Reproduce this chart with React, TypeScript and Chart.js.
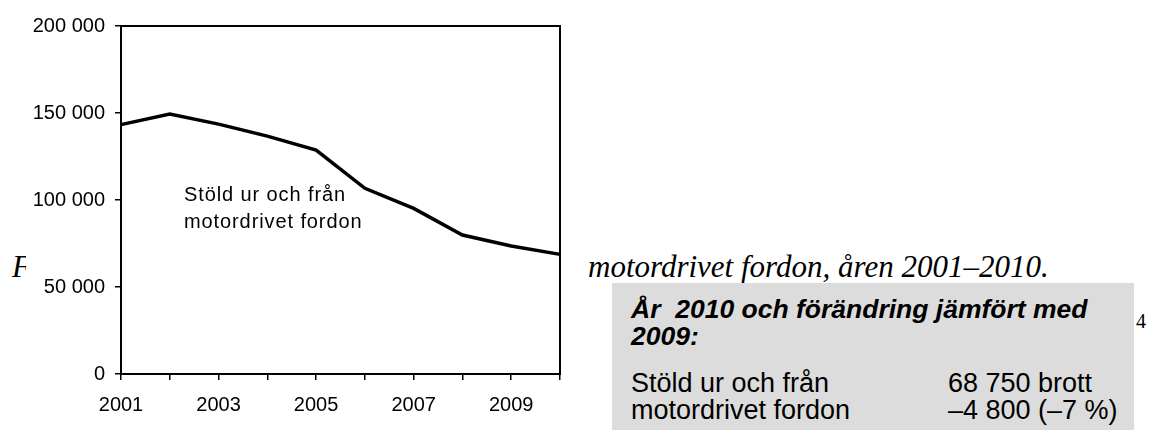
import React, { useEffect, useRef } from 'react';
import { Chart, registerables } from 'chart.js';

Chart.register(...registerables);

// ---- data ----
const years = ['2001', '2002', '2003', '2004', '2005', '2006', '2007', '2008', '2009', '2010'];
const thefts = [143300, 149400, 143600, 136700, 128700, 106700, 95200, 79900, 73550, 68750];
const yMin = 0;
const yMax = 200000;
const yStep = 50000;
const seriesLabelLines = ['Stöld ur och från', 'motordrivet fordon'];
const captionStart = 'F';
const captionEnd = 'motordrivet fordon, åren 2001–2010.';
const boxHeadingLines = ['År  2010 och förändring jämfört med', '2009:'];
const boxRowLeft = ['Stöld ur och från', 'motordrivet fordon'];
const boxRowRight = ['68 750 brott', '–4 800 (–7 %)'];
const pageNumber = '4';

const SANS = '"Liberation Sans", Arial, sans-serif';
const SERIF = '"Liberation Serif", "Times New Roman", serif';

const fmt = (v: number) => String(v).replace(/\B(?=(\d{3})+(?!\d))/g, ' ');

export default function App() {
  const canvasRef = useRef<HTMLCanvasElement | null>(null);

  useEffect(() => {
    document.body.style.margin = '0';
    const canvas = canvasRef.current;
    if (!canvas) return;

    const framePlugin = {
      id: 'frame',
      afterDraw(chart: any) {
        const { ctx, chartArea } = chart;
        ctx.save();
        ctx.strokeStyle = '#000';
        ctx.lineWidth = 2;
        ctx.strokeRect(chartArea.left, chartArea.top, chartArea.right - chartArea.left, chartArea.bottom - chartArea.top);
        ctx.restore();
      },
    };

    const labelPlugin = {
      id: 'seriesLabel',
      afterDraw(chart: any) {
        const { ctx, chartArea } = chart;
        ctx.save();
        ctx.fillStyle = '#000';
        ctx.font = `20px ${SANS}`;
        try { (ctx as any).letterSpacing = '0.9px'; } catch (e) {}
        ctx.textAlign = 'left';
        ctx.textBaseline = 'alphabetic';
        seriesLabelLines.forEach((line, i) => {
          ctx.fillText(line, chartArea.left + 63, chartArea.top + 175 + i * 27);
        });
        ctx.restore();
      },
    };

    const chart = new Chart(canvas, {
      type: 'line',
      data: {
        labels: years,
        datasets: [
          {
            data: thefts,
            borderColor: '#000',
            borderWidth: 3.5,
            pointRadius: 0,
            tension: 0,
            fill: false,
          },
        ],
      },
      options: {
        animation: false,
        responsive: false,
        maintainAspectRatio: false,
        devicePixelRatio: 1,
        layout: { padding: { left: 0, right: 15, top: 26, bottom: 0 } },
        plugins: { legend: { display: false }, tooltip: { enabled: false } },
        scales: {
          x: {
            type: 'category',
            offset: false,
            grid: { display: true, drawOnChartArea: false, drawTicks: true, tickLength: 6, color: '#000', lineWidth: 1.5 },
            border: { display: true, color: '#000', width: 2 },
            ticks: {
              autoSkip: false,
              maxRotation: 0,
              padding: 13,
              color: '#000',
              font: { family: SANS, size: 20 },
              callback: (_v: any, i: number) => (i % 2 === 0 ? years[i] : ''),
            },
            afterFit: (scale: any) => { scale.height = 56; },
          },
          y: {
            min: yMin,
            max: yMax,
            grid: { display: true, drawOnChartArea: false, drawTicks: true, tickLength: 6, color: '#000', lineWidth: 1.5 },
            border: { display: true, color: '#000', width: 2 },
            ticks: {
              stepSize: yStep,
              padding: 10,
              color: '#000',
              font: { family: SANS, size: 20 },
              callback: (v: any) => fmt(Number(v)),
            },
            afterFit: (scale: any) => { scale.width = 95; },
          },
        },
      },
      plugins: [framePlugin, labelPlugin],
    } as any);

    return () => chart.destroy();
  }, []);

  return (
    <div style={{ position: 'absolute', left: 0, top: 0, width: 1149, height: 430, overflow: 'hidden', background: '#fff' }}>
      <div style={{ position: 'absolute', left: 12, top: 276 - 25, fontFamily: SERIF, fontStyle: 'italic', fontSize: 31, lineHeight: '31px', whiteSpace: 'pre' }}>
        {captionStart}
      </div>
      <div style={{ position: 'absolute', left: 588, top: 276 - 25, fontFamily: SERIF, fontStyle: 'italic', fontSize: 31, lineHeight: '31px', whiteSpace: 'pre' }}>
        {captionEnd}
      </div>
      <div style={{ position: 'absolute', left: 612, top: 283, width: 522, height: 147, background: '#dcdcdc' }} />
      <div style={{ position: 'absolute', left: 631, top: 318 - 22, fontFamily: SANS, fontStyle: 'italic', fontWeight: 'bold', fontSize: 26.5, lineHeight: '27px', whiteSpace: 'pre' }}>
        {boxHeadingLines.map((l, i) => (
          <div key={i}>{l}</div>
        ))}
      </div>
      {boxRowLeft.map((l, i) => (
        <div key={'l' + i} style={{ position: 'absolute', left: 631, top: 392 - 22 + i * 27, fontFamily: SANS, fontSize: 27, lineHeight: '27px', whiteSpace: 'pre' }}>
          {l}
        </div>
      ))}
      {boxRowRight.map((l, i) => (
        <div key={'r' + i} style={{ position: 'absolute', left: 948, top: 392 - 22 + i * 27, fontFamily: SANS, fontSize: 27, lineHeight: '27px', whiteSpace: 'pre' }}>
          {l}
        </div>
      ))}
      <div style={{ position: 'absolute', left: 1136, top: 327 - 16, fontFamily: SERIF, fontSize: 20, lineHeight: '20px' }}>
        {pageNumber}
      </div>
      <canvas
        ref={canvasRef}
        width={549}
        height={430}
        style={{ position: 'absolute', left: 26, top: 0, width: 549, height: 430, background: '#fff' }}
      />
    </div>
  );
}
